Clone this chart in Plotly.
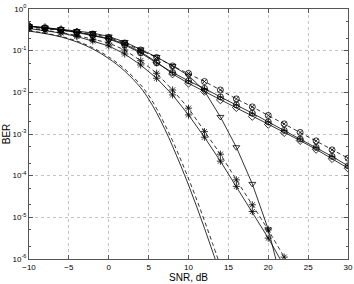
import plotly.graph_objects as go

# ---- data ----
snr_smooth = [-10, -8, -6, -4, -2, 0, 2, 4, 5, 6, 7, 8, 9, 10, 11, 12, 13, 14]
ber_smooth_solid = [0.295, 0.257, 0.214, 0.162, 0.110, 0.0646, 0.0324, 0.0129, 6.9e-3,
                    3.24e-3, 1.35e-3, 5.1e-4, 1.8e-4, 6.0e-5, 1.86e-5, 5.5e-6, 1.55e-6, 4.3e-7]
ber_smooth_dash = [0.302, 0.263, 0.219, 0.170, 0.117, 0.0708, 0.0363, 0.0151, 8.5e-3,
                   4.07e-3, 1.74e-3, 6.9e-4, 2.5e-4, 8.5e-5, 2.75e-5, 8.3e-6, 2.4e-6, 6.8e-7]

snr_full = [-10, -8, -6, -4, -2, 0, 2, 4, 6, 8, 10, 12, 14, 16, 18, 20, 22, 24, 26, 28, 30]
ber_ox_dash = [0.37, 0.34, 0.313, 0.281, 0.251, 0.207, 0.153, 0.104, 0.0687, 0.0430, 0.0284,
               0.0182, 0.0114, 6.95e-3, 4.47e-3, 2.79e-3, 1.75e-3, 1.09e-3, 6.84e-4, 4.16e-4, 2.63e-4]
ber_oplus_solid = [0.380, 0.350, 0.313, 0.273, 0.232, 0.191, 0.137, 0.0881, 0.0507, 0.0300, 0.0188,
                   0.0124, 7.76e-3, 4.99e-3, 3.16e-3, 1.95e-3, 1.22e-3, 7.62e-4, 4.78e-4, 2.90e-4, 1.72e-4]
ber_diamond_solid = [0.391, 0.360, 0.322, 0.281, 0.238, 0.196, 0.145, 0.0931, 0.0536, 0.0276, 0.0165,
                     0.0105, 6.58e-3, 4.30e-3, 2.64e-3, 1.70e-3, 1.08e-3, 6.95e-4, 4.28e-4, 2.56e-4, 1.51e-4]

snr_short = [-10, -8, -6, -4, -2, 0, 2, 4, 6, 8, 10, 12, 14, 16, 18, 20, 22]
ber_tri_solid = [0.391, 0.360, 0.331, 0.296, 0.265, 0.219, 0.162, 0.107, 0.0706, 0.0430, 0.0254,
                 0.0108, 2.57e-3, 4.82e-4, 6.35e-5, 5.15e-6, 1.63e-7]
ber_ast_dash = [0.350, 0.313, 0.273, 0.232, 0.186, 0.153, 0.104, 0.0575, 0.0287, 0.0114, 4.16e-3,
                1.14e-3, 3.28e-4, 7.93e-5, 2.0e-5, 5.0e-6, 1.11e-6]
ber_ast_solid = [0.340, 0.305, 0.265, 0.219, 0.171, 0.130, 0.0834, 0.0454, 0.0218, 8.67e-3, 2.87e-3,
                 8.38e-4, 2.23e-4, 5.53e-5, 1.38e-5, 3.17e-6, 6.76e-7]

x_ticks = [-10, -5, 0, 5, 10, 15, 20, 25, 30]
y_tickvals = [1, 1e-1, 1e-2, 1e-3, 1e-4, 1e-5, 1e-6]
y_ticktext = ["10<sup>0</sup>", "10<sup>-1</sup>", "10<sup>-2</sup>", "10<sup>-3</sup>",
              "10<sup>-4</sup>", "10<sup>-5</sup>", "10<sup>-6</sup>"]

# ---- figure ----
fig = go.Figure()
LW = 0.8
MS = 6
DASH = "4px,3px"

def add(x, y, dash, symbol=None, spline=False):
    mode = "lines+markers" if symbol else "lines"
    fig.add_trace(go.Scatter(
        x=x, y=y, mode=mode,
        line=dict(color="black", width=LW, dash=dash, shape="spline" if spline else "linear"),
        marker=dict(symbol=symbol, size=MS, color="black",
                    line=dict(color="black", width=0.8)) if symbol else None,
        showlegend=False, cliponaxis=True))

add(snr_smooth, ber_smooth_solid, "solid", spline=True)
add(snr_smooth, ber_smooth_dash, DASH, spline=True)
add(snr_short, ber_ast_solid, "solid", "asterisk-open")
add(snr_short, ber_ast_dash, DASH, "asterisk-open")
add(snr_short, ber_tri_solid, "solid", "triangle-down-open")
add(snr_full, ber_diamond_solid, "solid", "diamond-open")
add(snr_full, ber_oplus_solid, "solid", "circle-cross-open")
add(snr_full, ber_ox_dash, DASH, "circle-x-open")

axis_common = dict(
    showline=True, linecolor="#555555", linewidth=1, mirror="ticks",
    ticks="inside", ticklen=4, tickcolor="#555555",
    showgrid=True, gridcolor="#c4c4c4", griddash="dot", gridwidth=1,
    zeroline=False, tickfont=dict(size=8, color="black"), automargin=False,
)

fig.update_xaxes(range=[-10, 30], tickvals=x_ticks,
                 ticktext=[("\u2212" + str(-v)) if v < 0 else str(v) for v in x_ticks],
                 title=dict(text="SNR, dB", font=dict(size=10, color="black"), standoff=0),
                 **axis_common)
fig.update_yaxes(type="log", range=[-6, 0], tickvals=y_tickvals, ticktext=y_ticktext,
                 title=dict(text="BER", font=dict(size=10, color="black"), standoff=0),
                 minor=dict(ticks="inside", ticklen=2, tickcolor="#555555", showgrid=False),
                 **axis_common)

fig.update_layout(
    width=354, height=284,
    margin=dict(l=29, r=6, t=9, b=25),
    paper_bgcolor="white", plot_bgcolor="white",
    font=dict(family="Liberation Sans, Arial, Helvetica, sans-serif", color="black"),
)

fig.write_html("out.html", config={"displayModeBar": False},
               post_script="document.body.style.margin='0px';document.body.style.overflow='hidden';")
